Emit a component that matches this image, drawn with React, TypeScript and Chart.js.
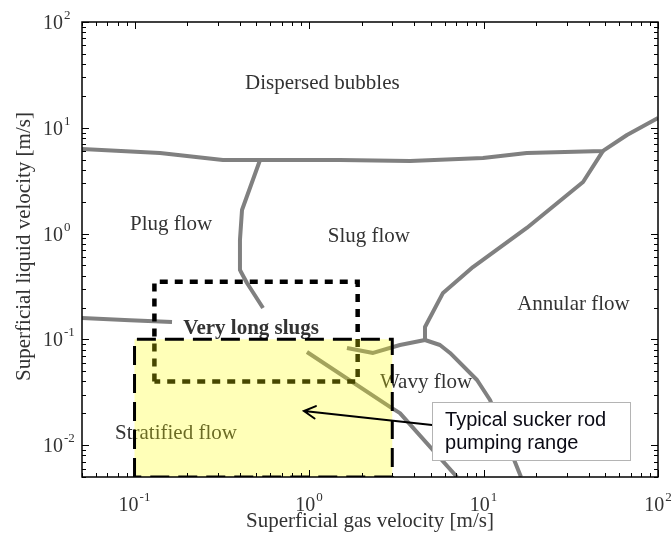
import { useEffect, useRef } from "react";
import { Chart, registerables } from "chart.js";

Chart.register(...registerables);

const SERIF = '"Liberation Serif", "Times New Roman", serif';
const SANS = '"Liberation Sans", Arial, sans-serif';
const TEXT_COLOR = "#333333";
const BOUNDARY_COLOR = "#808080";

// Axis ranges [m/s]
const gasVelocityRange = [0.05, 100];
const liquidVelocityRange = [0.005, 100];

// Regime boundaries: superficial gas velocity vs superficial liquid velocity
const dispersedBoundaryGas = [0.05, 0.14, 0.321, 1.5, 3.79, 9.93, 17.7, 48.4, 66.4, 100];
const dispersedBoundaryLiquid = [6.3, 5.78, 4.96, 4.96, 4.85, 5.19, 5.78, 6.04, 8.55, 12.4];

const annularBoundaryGas = [48.4, 37.2, 17.7, 8.7, 5.86, 4.62, 4.62];
const annularBoundaryLiquid = [6.04, 3.07, 1.13, 0.483, 0.275, 0.131, 0.0986];

const wavySlugBoundaryGas = [4.62, 3.32, 2.33, 1.65];
const wavySlugBoundaryLiquid = [0.0986, 0.0885, 0.0744, 0.083];

const wavyAnnularBoundaryGas = [4.62, 5.63, 6.43, 9.18, 10.9, 16.4];
const wavyAnnularBoundaryLiquid = [0.0986, 0.0885, 0.0744, 0.0413, 0.0267, 0.005];

const stratifiedWavyBoundaryGas = [0.973, 2.91, 3.32, 7.05];
const stratifiedWavyBoundaryLiquid = [0.076, 0.023, 0.0201, 0.005];

const plugSlugBoundaryGas = [0.524, 0.413, 0.402, 0.402, 0.441, 0.545];
const plugSlugBoundaryLiquid = [4.96, 1.67, 0.871, 0.453, 0.341, 0.198];

const plugStratifiedBoundaryGas = [0.05, 0.0942, 0.164];
const plugStratifiedBoundaryLiquid = [0.159, 0.152, 0.146];

// Very long slugs window and typical sucker rod pumping range
const longSlugGas = [0.13, 1.9];
const longSlugLiquid = [0.04, 0.35];
const pumpingGas = [0.1, 3];
const pumpingLiquid = [0.005, 0.1];

// Major tick exponents
const gasTickExponents = [-1, 0, 1, 2];
const liquidTickExponents = [-2, -1, 0, 1, 2];

// Regime names, anchored (left, baseline) in data units
const regimeLabels = [
  { text: "Dispersed bubbles", gas: 0.43, liquid: 23.3, bold: false },
  { text: "Plug flow", gas: 0.0942, liquid: 1.08, bold: false },
  { text: "Slug flow", gas: 1.28, liquid: 0.833, bold: false },
  { text: "Annular flow", gas: 15.6, liquid: 0.19, bold: false },
  { text: "Very long slugs", gas: 0.19, liquid: 0.1125, bold: true },
  { text: "Wavy flow", gas: 2.55, liquid: 0.0347, bold: false },
  { text: "Stratified flow", gas: 0.0773, liquid: 0.01145, bold: false },
];

// Callout box and its arrow
const calloutLines = ["Typical sucker rod", "pumping range"];
const calloutGas = [5.07, 69];
const calloutLiquid = [0.0072, 0.0256];
const arrowTail = { gas: 5.07, liquid: 0.0155 };
const arrowTip = { gas: 0.935, liquid: 0.021 };

function toPoints(xs: number[], ys: number[]) {
  return xs.map((x, i) => ({ x, y: ys[i] }));
}

function rectPoints(xr: number[], yr: number[]) {
  return [
    { x: xr[0], y: yr[0] },
    { x: xr[0], y: yr[1] },
    { x: xr[1], y: yr[1] },
    { x: xr[1], y: yr[0] },
    { x: xr[0], y: yr[0] },
  ];
}

function boundary(xs: number[], ys: number[]) {
  return {
    data: toPoints(xs, ys),
    showLine: true,
    borderColor: BOUNDARY_COLOR,
    borderWidth: 4,
    borderJoinStyle: "round" as const,
    borderCapStyle: "butt" as const,
    pointRadius: 0,
    fill: false,
    order: 3,
  };
}

function logTicks(min: number, max: number) {
  const out: { v: number; major: boolean }[] = [];
  for (let e = Math.floor(Math.log10(min)); e <= Math.ceil(Math.log10(max)); e++) {
    for (let k = 1; k <= 9; k++) {
      const v = k * Math.pow(10, e);
      if (v < min * 0.999 || v > max * 1.001) continue;
      out.push({ v, major: k === 1 });
    }
  }
  return out;
}

const decorations = {
  id: "flowMapDecorations",
  beforeDatasetsDraw(chart: any) {
    const { ctx } = chart;
    const xs = chart.scales.x;
    const ys = chart.scales.y;
    ctx.save();
    ctx.fillStyle = TEXT_COLOR;
    ctx.textAlign = "left";
    ctx.textBaseline = "alphabetic";
    for (const l of regimeLabels) {
      ctx.font = `${l.bold ? "bold " : ""}21px ${SERIF}`;
      ctx.fillText(l.text, xs.getPixelForValue(l.gas), ys.getPixelForValue(l.liquid));
    }
    ctx.restore();
  },
  afterDraw(chart: any) {
    const { ctx, chartArea } = chart;
    const { left, right, top, bottom } = chartArea;
    const xs = chart.scales.x;
    const ys = chart.scales.y;
    ctx.save();

    // inward ticks on all four sides
    ctx.strokeStyle = "#000";
    ctx.lineWidth = 1;
    ctx.beginPath();
    for (const t of logTicks(gasVelocityRange[0], gasVelocityRange[1])) {
      const px = Math.round(xs.getPixelForValue(t.v)) + 0.5;
      const len = t.major ? 7 : 4;
      ctx.moveTo(px, bottom);
      ctx.lineTo(px, bottom - len);
      ctx.moveTo(px, top);
      ctx.lineTo(px, top + len);
    }
    for (const t of logTicks(liquidVelocityRange[0], liquidVelocityRange[1])) {
      const py = Math.round(ys.getPixelForValue(t.v)) + 0.5;
      const len = t.major ? 7 : 4;
      ctx.moveTo(left, py);
      ctx.lineTo(left + len, py);
      ctx.moveTo(right, py);
      ctx.lineTo(right - len, py);
    }
    ctx.stroke();

    // frame
    ctx.lineWidth = 1.5;
    ctx.strokeRect(left, top, right - left, bottom - top);

    // tick labels as 10^n
    ctx.fillStyle = TEXT_COLOR;
    ctx.textBaseline = "alphabetic";
    ctx.textAlign = "left";
    const baseFont = `20px ${SERIF}`;
    const expFont = `13px ${SERIF}`;
    const drawPow = (x: number, y: number, e: number) => {
      ctx.font = baseFont;
      ctx.fillText("10", x, y);
      const w = ctx.measureText("10").width;
      ctx.font = expFont;
      ctx.fillText(String(e), x + w + 1, y - 10);
    };
    const powWidth = (e: number) => {
      ctx.font = baseFont;
      const w = ctx.measureText("10").width;
      ctx.font = expFont;
      return w + 1 + ctx.measureText(String(e)).width;
    };
    for (const e of gasTickExponents) {
      const px = xs.getPixelForValue(Math.pow(10, e));
      drawPow(px - powWidth(e) / 2, bottom + 34, e);
    }
    for (const e of liquidTickExponents) {
      const py = ys.getPixelForValue(Math.pow(10, e));
      drawPow(left - 39, py + 7, e);
    }

    // axis titles
    ctx.font = `21px ${SERIF}`;
    ctx.textAlign = "center";
    ctx.fillText("Superficial gas velocity [m/s]", (left + right) / 2, bottom + 50);
    ctx.save();
    ctx.translate(left - 52, (top + bottom) / 2 - 3);
    ctx.rotate(-Math.PI / 2);
    ctx.fillText("Superficial liquid velocity [m/s]", 0, 0);
    ctx.restore();

    // callout arrow
    const tx = xs.getPixelForValue(arrowTail.gas);
    const ty = ys.getPixelForValue(arrowTail.liquid);
    const hx = xs.getPixelForValue(arrowTip.gas);
    const hy = ys.getPixelForValue(arrowTip.liquid);
    const ang = Math.atan2(ty - hy, tx - hx);
    ctx.strokeStyle = "#000";
    ctx.lineWidth = 2;
    ctx.lineCap = "round";
    ctx.beginPath();
    ctx.moveTo(tx, ty);
    ctx.lineTo(hx, hy);
    ctx.moveTo(hx + 13 * Math.cos(ang + 0.5), hy + 13 * Math.sin(ang + 0.5));
    ctx.lineTo(hx, hy);
    ctx.lineTo(hx + 13 * Math.cos(ang - 0.5), hy + 13 * Math.sin(ang - 0.5));
    ctx.stroke();

    // callout box
    const bx0 = xs.getPixelForValue(calloutGas[0]);
    const bx1 = xs.getPixelForValue(calloutGas[1]);
    const by0 = ys.getPixelForValue(calloutLiquid[1]);
    const by1 = ys.getPixelForValue(calloutLiquid[0]);
    ctx.fillStyle = "#ffffff";
    ctx.fillRect(bx0, by0, bx1 - bx0, by1 - by0);
    ctx.strokeStyle = "#b4b4b4";
    ctx.lineWidth = 1;
    ctx.strokeRect(Math.round(bx0) + 0.5, Math.round(by0) + 0.5, Math.round(bx1 - bx0), Math.round(by1 - by0));
    ctx.fillStyle = "#0a0a14";
    ctx.font = `20px ${SANS}`;
    ctx.textAlign = "left";
    calloutLines.forEach((line, i) => {
      ctx.fillText(line, bx0 + 13, by0 + 24 + i * 23);
    });

    ctx.restore();
  },
};

export default function App() {
  const canvasRef = useRef<HTMLCanvasElement | null>(null);

  useEffect(() => {
    if (!canvasRef.current) return;
    const chart = new Chart(canvasRef.current, {
      type: "scatter",
      data: {
        datasets: [
          {
            // sucker rod pumping range: translucent yellow over everything
            data: rectPoints(pumpingGas, pumpingLiquid),
            showLine: true,
            borderColor: "#000000",
            borderWidth: 3,
            borderDash: [19, 9],
            backgroundColor: "rgba(255, 255, 0, 0.28)",
            fill: "shape",
            pointRadius: 0,
            order: 1,
          } as any,
          {
            data: rectPoints(longSlugGas, longSlugLiquid),
            showLine: true,
            borderColor: "#000000",
            borderWidth: 4.5,
            borderDash: [8, 7],
            fill: false,
            pointRadius: 0,
            order: 2,
          },
          boundary(dispersedBoundaryGas, dispersedBoundaryLiquid),
          boundary(annularBoundaryGas, annularBoundaryLiquid),
          boundary(wavySlugBoundaryGas, wavySlugBoundaryLiquid),
          boundary(wavyAnnularBoundaryGas, wavyAnnularBoundaryLiquid),
          boundary(stratifiedWavyBoundaryGas, stratifiedWavyBoundaryLiquid),
          boundary(plugSlugBoundaryGas, plugSlugBoundaryLiquid),
          boundary(plugStratifiedBoundaryGas, plugStratifiedBoundaryLiquid),
        ],
      },
      options: {
        responsive: true,
        maintainAspectRatio: false,
        animation: false,
        events: [],
        layout: { padding: { left: 82, right: 14, top: 22, bottom: 58 } },
        plugins: { legend: { display: false }, tooltip: { enabled: false } },
        scales: {
          x: { type: "logarithmic", min: gasVelocityRange[0], max: gasVelocityRange[1], display: false },
          y: { type: "logarithmic", min: liquidVelocityRange[0], max: liquidVelocityRange[1], display: false },
        },
      },
      plugins: [decorations],
    });
    return () => chart.destroy();
  }, []);

  return (
    <div style={{ position: "absolute", left: 0, top: 0, width: 672, height: 535, background: "#fff" }}>
      <canvas ref={canvasRef} />
    </div>
  );
}
